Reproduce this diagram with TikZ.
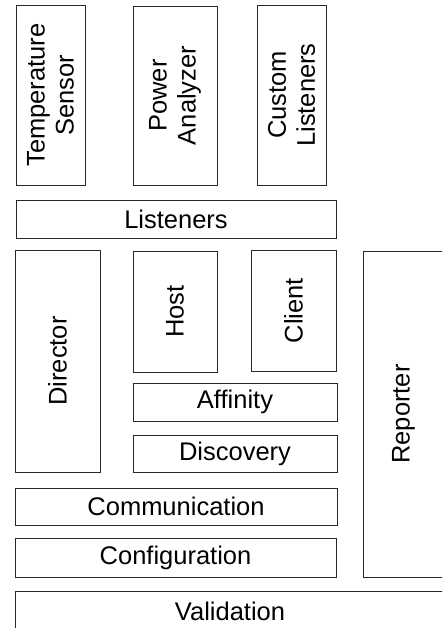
\documentclass[tikz,border=0pt]{standalone}
\usepackage{fontspec}
\setmainfont{Liberation Sans}
\usetikzlibrary{positioning}

\tikzset{
  blk/.style={draw={rgb,255:red,40;green,40;blue,40}, line width=0.9pt, inner sep=0pt, align=center, font=\fontsize{25.5}{29}\selectfont},
  vblk/.style={blk, rotate=90}
}

\begin{document}
\begin{tikzpicture}[x=1pt,y=1pt,yscale=-1,xscale=1]
  \useasboundingbox (0,0) rectangle (442,628);
  \clip (0,0) rectangle (442,628);

  \node [vblk, minimum width=180, minimum height=69] (tempsensor) at (50.5,95) {Temperature\\Sensor};
  \node [vblk, minimum width=179, minimum height=84] (poweranalyzer) at (175,95.5) {Power\\Analyzer};
  \node [vblk, minimum width=180, minimum height=69] (customlisteners) at (291.5,95) {Custom\\Listeners};

  \node [blk, minimum width=320, minimum height=38] (listeners) at (176,219) {Listeners};

  \node [vblk, minimum width=222, minimum height=85] (director) at (57.5,361) {Director};
  \node [vblk, minimum width=121, minimum height=84] (host) at (175,311.5) {Host};
  \node [vblk, minimum width=121, minimum height=85] (client) at (293.5,310.5) {Client};
  \node [vblk, minimum width=326, minimum height=81] (reporter) at (403.5,414) {Reporter};

  \node [blk, minimum width=204, minimum height=38] (affinity) at (235,402) {Affinity};
  \node [blk, minimum width=204, minimum height=37] (discovery) at (235,453.5) {Discovery};
  \node [blk, minimum width=322, minimum height=37] (communication) at (176,506.5) {Communication};
  \node [blk, minimum width=321, minimum height=39] (configuration) at (175.5,557.5) {Configuration};
  \node [blk, minimum width=430, minimum height=40] (validation) at (230,611) {Validation};
\end{tikzpicture}
\end{document}
